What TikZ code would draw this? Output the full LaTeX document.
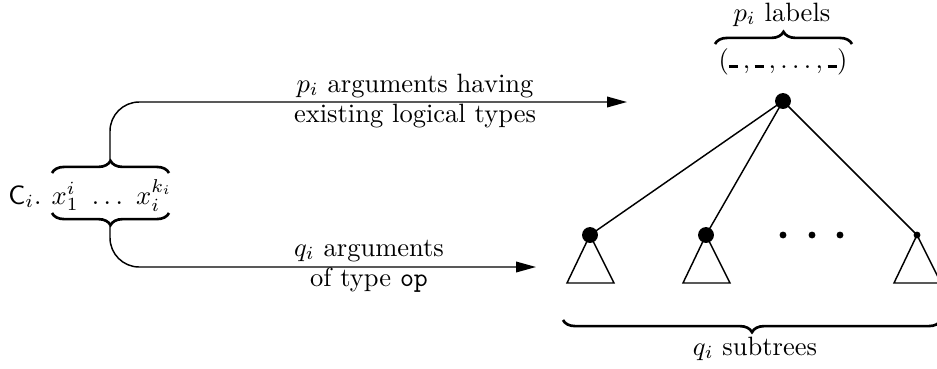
\documentclass[tikz,border=0pt]{standalone}
\usetikzlibrary{arrows.meta,decorations.pathreplacing}
\newcommand{\blankslot}{\rule{3.6pt}{1.1pt}}
\begin{document}
\begin{tikzpicture}[x=0.377pt,y=-0.377pt,
  txt/.style={inner sep=0pt,anchor=base},
  bigbrace/.style={decorate,decoration={brace,amplitude=4.6pt},line width=1pt},
  conn/.style={line width=0.55pt,-{Triangle[length=7.5pt,width=4pt]}},
  bigdot/.style={circle,fill,inner sep=0pt,minimum size=6pt},
  smalldot/.style={circle,fill,inner sep=0pt,minimum size=2.6pt},
  edge/.style={line width=0.55pt}]
\useasboundingbox (0,0) rectangle (937,368);
% left term
\node[txt] (ci) at (25,204) {$\mathsf{C}_i.$};
\node[txt] (xs) at (112,204) {$x_1^i\ \ldots\ x_i^{k_i}$};
\draw[bigbrace] (52,173) -- (169,173);
\draw[bigbrace,decoration={mirror}] (52,213) -- (169,213);
\coordinate (tt) at (110,160);
\coordinate (bt) at (110,226);
\coordinate (pa) at (627,102);
\coordinate (qa) at (536,267);
\draw[conn,rounded corners=11pt] (tt) |- (pa);
\draw[conn,rounded corners=11pt] (bt) |- (qa);
\node[txt] (l1) at (415,92) {$p_i$ arguments having};
\node[txt] (l2) at (415,122) {existing logical types};
\node[txt] (l3) at (369,256) {$q_i$ arguments};
\node[txt] (l4) at (369,286) {of type \texttt{op}};
% labels
\node[txt] (pl) at (782,21) {$p_i$ labels};
\draw[bigbrace] (715,44) -- (852,44);
\node[txt] (tup) at (783,68) {$(\blankslot\,,\blankslot\,,\ldots,\blankslot)$};
% tree
\coordinate (r) at (783,101);
\coordinate (c1) at (590,235);
\coordinate (c2) at (706,235);
\coordinate (c4) at (917,235);
\draw[edge] (r) -- (c1);
\draw[edge] (r) -- (c2);
\draw[edge] (r) -- (c4);
\draw[edge] (c1) -- (567,283) -- (614,283) -- cycle;
\draw[edge] (c2) -- (683,283) -- (730,283) -- cycle;
\draw[edge] (c4) -- (894,283) -- (941,283) -- cycle;
\node[bigdot] (rn) at (r) {};
\node[bigdot] (c1n) at (c1) {};
\node[bigdot] (c2n) at (c2) {};
\node[smalldot] (c4n) at (c4) {};
\node[smalldot] (d1) at (783,235) {};
\node[smalldot] (d2) at (812,235) {};
\node[smalldot] (d3) at (840,235) {};
\draw[bigbrace,decoration={mirror}] (563,320) -- (941,320);
\node[txt] (qs) at (755,355) {$q_i$ subtrees};
\end{tikzpicture}
\end{document}
